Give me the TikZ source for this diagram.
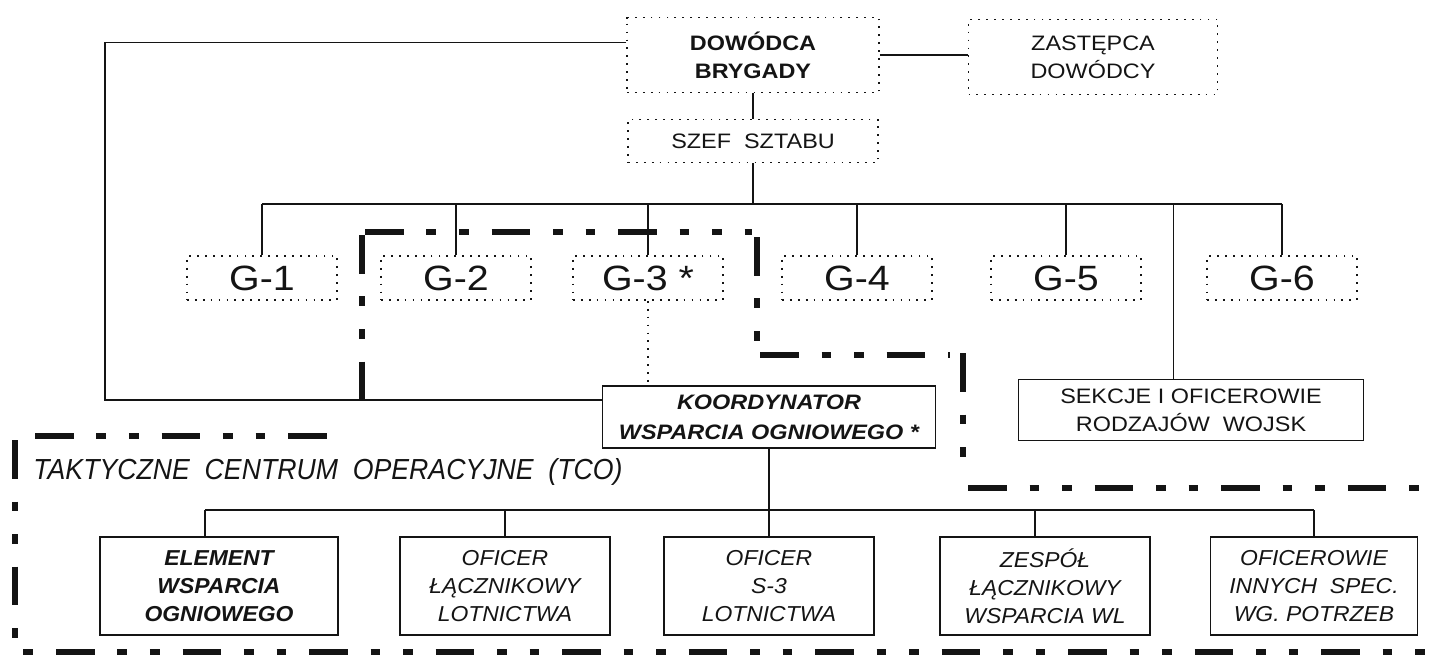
\documentclass[tikz,border=0pt]{standalone}
\usepackage{fontspec}
\setmainfont{Liberation Sans}
\newfontfamily\boxfont[FakeStretch=1.12]{Liberation Sans}
\newfontfamily\unitfont[FakeStretch=1.06]{Liberation Sans}
\newfontfamily\tcofont[FakeStretch=0.92]{Liberation Sans}
\usetikzlibrary{calc}
\definecolor{inkline}{HTML}{141414}

\begin{document}
\begin{tikzpicture}[
  x=0.02cm, y=-0.02cm,
  dotbox/.style={draw=inkline, line width=1pt, dash pattern=on 1pt off 3.5pt, align=center,
                 inner sep=0pt, text=inkline, font=\boxfont\fontsize{11.9}{15.9}\selectfont},
  gbox/.style={dotbox, minimum width=3.0cm, minimum height=0.88cm,
               font=\boxfont\fontsize{20}{22}\selectfont},
  solbox/.style={draw=inkline, line width=0.85pt, align=center, inner sep=0pt, text=inkline},
  unitbox/.style={solbox, minimum width=4.2cm, minimum height=1.96cm,
                  font=\unitfont\itshape\fontsize{12.3}{16}\selectfont},
  link/.style={draw=inkline, line width=0.75pt},
  dlink/.style={draw=inkline, line width=1pt, dash pattern=on 1pt off 3.5pt},
  zone/.style={draw=inkline, line width=3pt,
               dash pattern=on 22pt off 13pt on 5.5pt off 13pt on 5.5pt off 13pt},
]
\useasboundingbox (0,0) rectangle (1436,663);

% ---- command ----
\node[dotbox, minimum width=5.04cm, minimum height=1.5cm, font=\boxfont\bfseries\fontsize{11.9}{15.9}\selectfont]
  (dow) at (753,55) {DOWÓDCA\\BRYGADY};
\node[dotbox, minimum width=4.98cm, minimum height=1.5cm] (zas) at (1093,57) {ZASTĘPCA\\DOWÓDCY};
\node[dotbox, minimum width=5.0cm, minimum height=0.86cm] (szef) at (753,141) {SZEF\ \ SZTABU};

% ---- staff row ----
\node[gbox] (g1) at (262,278)  {G-1};
\node[gbox] (g2) at (456,278)  {G-2};
\node[gbox] (g3) at (648,278)  {G-3 *};
\node[gbox] (g4) at (857,278)  {G-4};
\node[gbox] (g5) at (1066,278) {G-5};
\node[gbox] (g6) at (1282,278) {G-6};

% ---- coordinator + sections ----
\node[solbox, minimum width=6.66cm, minimum height=1.24cm,
      font=\boxfont\bfseries\itshape\fontsize{11.9}{17}\selectfont]
  (koord) at (769,417) {KOORDYNATOR\\WSPARCIA OGNIOWEGO *};
\node[solbox, minimum width=6.9cm, minimum height=1.22cm, font=\boxfont\fontsize{11.9}{15.9}\selectfont]
  (sek) at (1191,410) {SEKCJE I OFICEROWIE\\RODZAJÓW\ \ WOJSK};

% ---- TCO row ----
\node[unitbox, minimum width=4.76cm, font=\unitfont\bfseries\itshape\fontsize{12.3}{16}\selectfont]
  (elem) at (219,586) {ELEMENT\\WSPARCIA\\OGNIOWEGO};
\node[unitbox] (olot) at (505,586)  {OFICER\\ŁĄCZNIKOWY\\LOTNICTWA};
\node[unitbox] (s3)   at (769,586)  {OFICER\\S-3\\LOTNICTWA};
\node[unitbox] (zesp) at (1045,586) {ZESPÓŁ\\ŁĄCZNIKOWY\\WSPARCIA WL};
\node[unitbox, minimum width=4.14cm] (ofic) at (1314,586) {OFICEROWIE\\INNYCH\ \ SPEC.\\WG. POTRZEB};

\node[font=\tcofont\itshape\fontsize{16.5}{19}\selectfont, text=inkline, anchor=base west, inner sep=0pt]
  (tco) at (33,479) {TAKTYCZNE\ \ CENTRUM\ \ OPERACYJNE\ \ (TCO)};

% ---- connectors ----
\coordinate (bus)  at (760,204);
\coordinate (lft)  at (105,200);
\coordinate (tbus) at (769,510);

\draw[link] ([yshift=0.25cm]dow.west) -| (lft) |- ([yshift=0.34cm]koord.west);
\draw[link] (dow.east) -- (dow.east -| zas.west);
\draw[link] (dow) -- (szef);
\draw[link] (szef.south) -- (szef.south |- bus);
\draw[link] (g1.north |- bus) -- (g6.north |- bus);
\foreach \g in {g1,g2,g3,g4,g5,g6}
  \draw[link] (\g.north) -- (\g.north |- bus);
\draw[link] ([xshift=-3.5mm]sek.north) -- ([xshift=-3.5mm]sek.north |- bus);
\draw[dlink] (g3.south) -- (g3.south |- koord.north);

\draw[link] (koord) -- (s3);
\draw[link] ([xshift=-2.8mm]elem.north |- tbus) -- (ofic.north |- tbus);
\draw[link] ([xshift=-2.8mm]elem.north) -- ([xshift=-2.8mm]elem.north |- tbus);
\draw[link] (olot.north) -- (olot.north |- tbus);
\draw[link] ([xshift=-2mm]zesp.north) -- ([xshift=-2mm]zesp.north |- tbus);
\draw[link] (ofic.north) -- (ofic.north |- tbus);

% ---- TCO boundary ----
\draw[zone] (365,232) -- (752,232);
\draw[zone] (362,235) -- (362,412);
\draw[zone] (757,237) -- (757,350);
\draw[zone] (760,355) -- (950,355);
\draw[zone] (963,353) -- (963,470);
\draw[zone] (968,488) -- (1436,488);
\draw[zone] (35,436) -- (348,436);
\draw[zone] (15,440) -- (15,652) -- (1436,652);

\end{tikzpicture}
\end{document}
